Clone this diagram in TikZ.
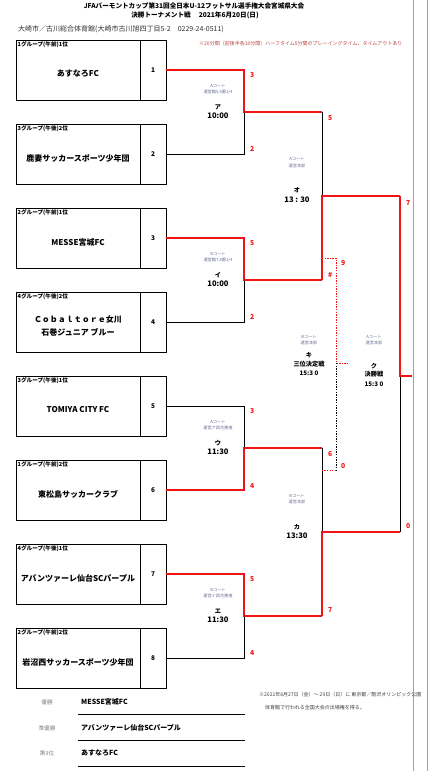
\documentclass[tikz,border=0pt]{standalone}
\usepackage{fontspec}
\setmainfont{Noto Sans CJK JP}
\definecolor{rd}{RGB}{240,20,20}
\definecolor{court}{RGB}{110,115,150}
\definecolor{gl}{RGB}{160,160,160}
\begin{document}
\begin{tikzpicture}[x=1pt,y=-1pt,
  namebox/.style={draw, line width=0.8pt, minimum width=124pt, minimum height=60pt, inner sep=0pt, outer sep=0pt, anchor=north west},
  numbox/.style={draw, line width=0.8pt, minimum width=26pt, minimum height=60pt, inner sep=0pt, outer sep=0pt, anchor=north west, font=\fontsize{6.5}{7}\selectfont\bfseries},
  grouplbl/.style={anchor=north west, inner sep=0pt, font=\fontsize{5.6}{6}\selectfont\bfseries},
  teamname/.style={inner sep=0pt, align=center, font=\fontsize{8}{13}\selectfont\bfseries},
  blk/.style={line width=0.8pt, black},
  redl/.style={line width=2pt, rd},
  score/.style={anchor=west, inner sep=0pt, text=rd, font=\fontsize{6.8}{7}\selectfont\bfseries},
  courtlbl/.style={inner sep=0pt, text=court, font=\fontsize{4.2}{5}\selectfont},
  matchlbl/.style={inner sep=0pt, font=\fontsize{6.2}{7}\selectfont\bfseries},
  timelbl/.style={inner sep=0pt, font=\fontsize{7.6}{8}\selectfont\bfseries},
  reslbl/.style={inner sep=0pt, text=gray, font=\fontsize{5.6}{6}\selectfont},
  resname/.style={anchor=west, inner sep=0pt, font=\fontsize{7}{8}\selectfont\bfseries},
  note/.style={anchor=west, inner sep=0pt, font=\fontsize{5}{6}\selectfont}
]
\useasboundingbox (0,0) rectangle (444,771);
\fill[white] (0,0) rectangle (444,771);

% header
\node[inner sep=0pt, font=\fontsize{6.6}{7}\selectfont\bfseries] (title1) at (194,6) {JFAバーモントカップ第31回全日本U-12フットサル選手権大会宮城県大会};
\node[inner sep=0pt, font=\fontsize{6.6}{7}\selectfont\bfseries] (title2) at (195,15) {決勝トーナメント戦　 2021年6月20日(日)};
\node[anchor=west, inner sep=0pt, text=black!80, font=\fontsize{7}{8}\selectfont] (venue) at (18,29) {大崎市／古川総合体育館(大崎市古川旭四丁目5-2　0229-24-0511)};
\node[note, text=red!45!gray] (rule) at (199,44) {※20分間（前後半各10分間）ハーフタイム5分間のプレーイングタイム、タイムアウトあり};

% right gray lines
\coordinate (g1t) at (413,0); \coordinate (g1b) at (413,771);
\coordinate (g2t) at (427,0); \coordinate (g2b) at (427,771);
\draw[gl, line width=0.8pt] (g1t) -- (g1b);
\draw[gl, line width=0.8pt] (g2t) -- (g2b);

% team boxes
\foreach \i/\g/\t in {
 1/{1グループ(午前)1位}/{あすなろFC},
 2/{3グループ(午後)2位}/{鹿妻サッカースポーツ少年団},
 3/{2グループ(午前)1位}/{MESSE宮城FC},
 4/{4グループ(午後)2位}/{Ｃｏｂａｌｔｏｒｅ女川\\石巻ジュニア ブルー},
 5/{3グループ(午後)1位}/{TOMIYA CITY FC},
 6/{1グループ(午前)2位}/{東松島サッカークラブ},
 7/{4グループ(午後)1位}/{アバンツァーレ仙台SCパープル},
 8/{2グループ(午前)2位}/{岩沼西サッカースポーツ少年団}} {
  \pgfmathsetmacro\ytop{40+84*(\i-1)}
  \node[namebox] (t\i) at (16,\ytop) {};
  \node[numbox] (n\i) at (140,\ytop) {\i};
  \node[grouplbl] (g\i) at (17.5,\ytop+1.5) {\g};
  \node[teamname] (tn\i) at (78,\ytop+34) {\t};
}

% bracket coordinates
\coordinate (A1) at (244,70);  \coordinate (A2) at (244,154); \coordinate (Am) at (244,112);
\coordinate (I1) at (244,238); \coordinate (I2) at (244,322); \coordinate (Im) at (244,280);
\coordinate (U1) at (244,406); \coordinate (U2) at (244,490); \coordinate (Um) at (244,448);
\coordinate (E1) at (244,574); \coordinate (E2) at (244,658); \coordinate (Em) at (244,616);
\coordinate (O1) at (322,112); \coordinate (O2) at (322,280); \coordinate (Om) at (322,196);
\coordinate (K1) at (322,448); \coordinate (K2) at (322,616); \coordinate (Km) at (322,532);
\coordinate (F1) at (400,196); \coordinate (F2) at (400,532); \coordinate (Fm) at (400,376);
\coordinate (W) at (412,376);
\coordinate (Q1) at (322,258); \coordinate (Q1b) at (336,258); \coordinate (Qm) at (336,363);
\coordinate (QW) at (349,363); \coordinate (Q2b) at (336,470); \coordinate (Q2) at (322,470);

% black lines
\draw[blk] (n2.east) -- (A2) -- (Am);
\draw[blk] (n4.east) -- (I2) -- (Im);
\draw[blk] (n5.east) -- (U1) -- (Um);
\draw[blk] (n8.east) -- (E2) -- (Em);
\draw[blk] (O1) -- (Om);
\draw[blk] (K1) -- (Km);
\draw[blk] (F2) -- (Fm);
% third place (dotted)
\draw[line width=0.8pt, black, dash pattern=on 1.3pt off 1.3pt] (Qm) -- (Q2b);
\draw[line width=0.8pt, rd, dash pattern=on 1.3pt off 1.3pt] (Q1) -- (Q1b) -- (Qm) -- (QW);
\draw[line width=0.8pt, rd, dash pattern=on 1.3pt off 1.3pt] (Q2b) -- (Q2);
% red lines
\draw[redl, line join=miter] (n1.east) -- (A1) -- (Am) -- (O1);
\draw[redl, line join=miter] (n3.east) -- (I1) -- (Im) -- (O2);
\draw[redl, line join=miter] (n6.east) -- (U2) -- (Um) -- (K1);
\draw[redl, line join=miter] (n7.east) -- (E1) -- (Em) -- (K2);
\draw[redl, line join=miter] (O2) -- (Om) -- (F1);
\draw[redl, line join=miter] (K2) -- (Km) -- (F2);
\draw[redl, line join=miter] (F1) -- (Fm) -- (W);

% scores
\node[score] (sa1) at (250,75) {3};  \node[score] (sa2) at (250,149) {2};
\node[score] (si1) at (250,243) {5}; \node[score] (si2) at (250,317) {2};
\node[score] (su1) at (250,411) {3}; \node[score] (su2) at (250,486) {4};
\node[score] (se1) at (250,579) {5}; \node[score] (se2) at (250,653) {4};
\node[score] (so1) at (328,118) {5}; \node[score] (so2) at (328,275) {\#};
\node[score] (sk1) at (328,454) {6}; \node[score] (sk2) at (328,610) {7};
\node[score] (sq1) at (341,263) {9}; \node[score] (sq2) at (341,466) {0};
\node[score] (sf1) at (406,203) {7}; \node[score] (sf2) at (406,526) {0};

% match labels
\node[courtlbl] (ca1) at (218,86) {Aコート};
\node[courtlbl] (ca2) at (218,92) {運営輪5,6番1/4};
\node[matchlbl] (ma) at (218,107) {ア};
\node[timelbl] (ta) at (218,116) {10:00};

\node[courtlbl] (ci1) at (218,254) {Bコート};
\node[courtlbl] (ci2) at (218,260) {運営輪7,8番1/4};
\node[matchlbl] (mi) at (218,275) {イ};
\node[timelbl] (ti) at (218,284) {10:00};

\node[courtlbl] (cu1) at (218,422) {Aコート};
\node[courtlbl] (cu2) at (218,428) {運営ア試合勝者};
\node[matchlbl] (mu) at (218,443) {ウ};
\node[timelbl] (tu) at (218,452) {11:30};

\node[courtlbl] (ce1) at (218,590) {Bコート};
\node[courtlbl] (ce2) at (218,596) {運営イ試合勝者};
\node[matchlbl] (me) at (218,611) {エ};
\node[timelbl] (te) at (218,620) {11:30};

\node[courtlbl] (co1) at (297,159) {Aコート};
\node[courtlbl] (co2) at (297,166) {運営本部};
\node[matchlbl] (mo) at (297,190) {オ};
\node[timelbl] (to) at (297,200) {13 : 30};

\node[courtlbl] (ck1) at (297,496) {Bコート};
\node[courtlbl] (ck2) at (297,502) {運営本部};
\node[matchlbl] (mk) at (297,527) {カ};
\node[timelbl] (tk) at (297,536) {13:30};

\node[courtlbl] (cq1) at (309,337) {Bコート};
\node[courtlbl] (cq2) at (309,343) {運営本部};
\node[matchlbl] (mq) at (309,355) {キ};
\node[matchlbl] (mq2) at (309,364) {三位決定戦};
\node[matchlbl] (tq) at (309,373) {15:3 0};

\node[courtlbl] (cf1) at (374,337) {Aコート};
\node[courtlbl] (cf2) at (374,343) {運営本部};
\node[matchlbl] (mf) at (374,366) {ク};
\node[matchlbl] (mf2) at (374,374) {決勝戦};
\node[matchlbl] (tf) at (374,384) {15:3 0};

% results
\node[reslbl] (r1) at (47,702) {優勝};
\node[resname] (rn1) at (81,702) {MESSE宮城FC};
\coordinate (l1a) at (78,714); \coordinate (l1b) at (245,714);
\draw[blk] (l1a) -- (l1b);
\node[reslbl] (r2) at (47,728) {準優勝};
\node[resname] (rn2) at (81,728) {アバンツァーレ仙台SCパープル};
\coordinate (l2a) at (78,740); \coordinate (l2b) at (245,740);
\draw[blk] (l2a) -- (l2b);
\node[reslbl] (r3) at (47,753) {第3位};
\node[resname] (rn3) at (81,753) {あすなろFC};
\coordinate (l3a) at (78,766); \coordinate (l3b) at (245,766);
\draw[blk] (l3a) -- (l3b);

\node[note, text=black!75] (nt1) at (259,695) {※2021年8月27日（金）～ 29日（日）に 東京都／駒沢オリンピック公園};
\node[note, text=black!75] (nt2) at (265,708) {体育館で行われる全国大会の出場権を得る。};
\end{tikzpicture}
\end{document}
